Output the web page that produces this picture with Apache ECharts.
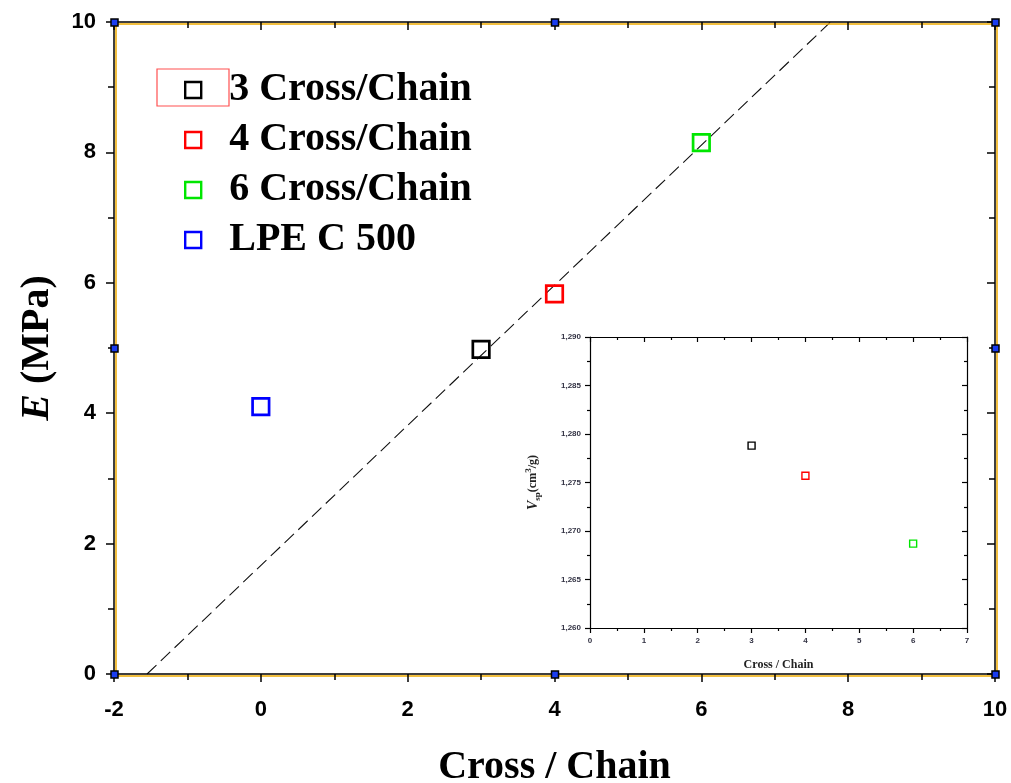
<!DOCTYPE html>
<html><head><meta charset="utf-8">
<script src="https://cdn.jsdelivr.net/npm/echarts@6/dist/echarts.min.js"></script>
<style>html,body{margin:0;padding:0;background:#fff}#c{width:1011px;height:783px}</style>
</head><body><div id="c"></div>
<script>
// ---- data ----
const seriesNames = ['3 Cross/Chain', '4 Cross/Chain', '6 Cross/Chain', 'LPE C 500'];
const seriesColors = ['#000000', '#ff0000', '#00e600', '#0000ff'];
const modX = [3, 4, 6, 0];
const modE = [4.98, 5.83, 8.15, 4.10];
const fitX = [-1.55, 7.76];
const fitY = [0, 10];
const insetX = [3, 4, 6];
const insetV = [1.2788, 1.2757, 1.2687];
const insetColors = ['#000000', '#ff0000', '#00e600'];

const serif = '"Liberation Serif","Times New Roman",serif';
const sans = '"Liberation Sans",Arial,sans-serif';
const gold = '#eeaa00';

const chart = echarts.init(document.getElementById('c'), null, {renderer: 'canvas'});

const G = {left: 114, top: 22, right: 16, bottom: 109};
const scatterSeries = seriesNames.map((n, i) => ({
  name: n, type: 'scatter', xAxisIndex: 0, yAxisIndex: 0,
  symbol: 'rect', symbolSize: 16.5,
  itemStyle: {color: 'rgba(255,255,255,0)', borderColor: seriesColors[i], borderWidth: 2.7, opacity: 1},
  data: [[modX[i], modE[i]]], z: 5
}));

function line(color, w) { return {show: true, onZero: false, lineStyle: {color: color, width: w}}; }

const option = {
  backgroundColor: '#fff',
  animation: false,
  grid: [
    {left: G.left, top: G.top, right: G.right, bottom: G.bottom, containLabel: false, outerBoundsMode: 'none'},
    {left: G.left + 2, top: G.top + 2, right: G.right - 2, bottom: G.bottom - 2, containLabel: false, outerBoundsMode: 'none'},
    {left: 590, top: 337, width: 377, height: 291, containLabel: false, outerBoundsMode: 'none'}
  ],
  xAxis: [
    {gridIndex: 0, type: 'value', min: -2, max: 10, interval: 2, position: 'bottom',
     name: 'Cross / Chain', nameLocation: 'middle', nameGap: 74,
     nameTextStyle: {fontFamily: serif, fontWeight: 'bold', fontSize: 40, color: '#000'},
     axisLine: line('#000', 1.5),
     axisTick: {show: true, inside: false, length: 8, lineStyle: {color: '#000', width: 1.5}},
     minorTick: {show: true, splitNumber: 2, length: 6, lineStyle: {color: '#000', width: 1.5}},
     axisLabel: {fontFamily: sans, fontWeight: 'bold', fontSize: 22, color: '#000', margin: 25},
     splitLine: {show: false}, z: 3},
    {gridIndex: 0, type: 'value', min: -2, max: 10, interval: 2, position: 'top',
     axisLine: line('#000', 1.5),
     axisTick: {show: true, inside: true, length: 8, lineStyle: {color: '#000', width: 1.5}},
     minorTick: {show: true, splitNumber: 2, length: 6, lineStyle: {color: '#000', width: 1.5}},
     axisLabel: {show: false}, splitLine: {show: false}, z: 3},
    {gridIndex: 1, type: 'value', min: -2, max: 10, position: 'bottom',
     axisLine: line(gold, 1.5), axisTick: {show: false},
     axisLabel: {show: false}, splitLine: {show: false}, z: 2},
    {gridIndex: 1, type: 'value', min: -2, max: 10, position: 'top',
     axisLine: line(gold, 1.5), axisTick: {show: false},
     axisLabel: {show: false}, splitLine: {show: false}, z: 2},
    {gridIndex: 2, type: 'value', min: 0, max: 7, interval: 1, position: 'bottom',
     name: 'Cross / Chain', nameLocation: 'middle', nameGap: 31,
     nameTextStyle: {fontFamily: serif, fontWeight: 'bold', fontSize: 12, color: '#222'},
     axisLine: line('#000', 1.2),
     axisTick: {show: true, inside: false, length: 5, lineStyle: {color: '#000', width: 1.2}},
     minorTick: {show: true, splitNumber: 2, length: 3, lineStyle: {color: '#000', width: 1.2}},
     axisLabel: {fontFamily: sans, fontWeight: 'bold', fontSize: 8, color: '#334', margin: 9},
     splitLine: {show: false}},
    {gridIndex: 2, type: 'value', min: 0, max: 7, interval: 1, position: 'top',
     axisLine: line('#000', 1.2),
     axisTick: {show: true, inside: true, length: 5, lineStyle: {color: '#000', width: 1.2}},
     minorTick: {show: true, splitNumber: 2, length: 3, lineStyle: {color: '#000', width: 1.2}},
     axisLabel: {show: false}, splitLine: {show: false}}
  ],
  yAxis: [
    {gridIndex: 0, type: 'value', min: 0, max: 10, interval: 2, position: 'left',
     name: '{e|E}{n| (MPa)}', nameLocation: 'middle', nameGap: 56, nameRotate: 90,
     nameTextStyle: {fontFamily: serif, fontWeight: 'bold', fontSize: 40, color: '#000',
       rich: {e: {fontFamily: serif, fontWeight: 'bold', fontStyle: 'italic', fontSize: 40, color: '#000'},
              n: {fontFamily: serif, fontWeight: 'bold', fontSize: 40, color: '#000'}}},
     axisLine: line('#000', 1.5),
     axisTick: {show: true, inside: false, length: 8, lineStyle: {color: '#000', width: 1.5}},
     minorTick: {show: true, splitNumber: 2, length: 6, lineStyle: {color: '#000', width: 1.5}},
     axisLabel: {fontFamily: sans, fontWeight: 'bold', fontSize: 22, color: '#000', margin: 18},
     splitLine: {show: false}, z: 3},
    {gridIndex: 0, type: 'value', min: 0, max: 10, interval: 2, position: 'right',
     axisLine: line('#000', 1.5),
     axisTick: {show: true, inside: true, length: 8, lineStyle: {color: '#000', width: 1.5}},
     minorTick: {show: true, splitNumber: 2, length: 6, lineStyle: {color: '#000', width: 1.5}},
     axisLabel: {show: false}, splitLine: {show: false}, z: 3},
    {gridIndex: 1, type: 'value', min: 0, max: 10, position: 'left',
     axisLine: line(gold, 1.5), axisTick: {show: false},
     axisLabel: {show: false}, splitLine: {show: false}, z: 2},
    {gridIndex: 1, type: 'value', min: 0, max: 10, position: 'right',
     axisLine: line(gold, 1.5), axisTick: {show: false},
     axisLabel: {show: false}, splitLine: {show: false}, z: 2},
    {gridIndex: 2, type: 'value', min: 1.26, max: 1.29, interval: 0.005, position: 'left',
     name: '{v|V}{s|sp}{n|(cm}{p|3}{n|/g)}', nameLocation: 'middle', nameGap: 48, nameRotate: 90,
     nameTextStyle: {fontFamily: serif, fontWeight: 'bold', fontSize: 12, color: '#222',
       rich: {v: {fontFamily: serif, fontWeight: 'bold', fontStyle: 'italic', fontSize: 14, color: '#222', lineHeight: 18, verticalAlign: 'middle'},
              s: {fontFamily: serif, fontWeight: 'bold', fontSize: 9, color: '#222', lineHeight: 18, verticalAlign: 'bottom', padding: [8, 0, 0, 0]},
              n: {fontFamily: serif, fontWeight: 'bold', fontSize: 12, color: '#222', lineHeight: 18, verticalAlign: 'middle'},
              p: {fontFamily: serif, fontWeight: 'bold', fontSize: 9, color: '#222', lineHeight: 18, verticalAlign: 'top', padding: [0, 0, 8, 0]}}},
     axisLine: line('#000', 1.2),
     axisTick: {show: true, inside: false, length: 5, lineStyle: {color: '#000', width: 1.2}},
     minorTick: {show: true, splitNumber: 2, length: 3, lineStyle: {color: '#000', width: 1.2}},
     axisLabel: {fontFamily: sans, fontWeight: 'bold', fontSize: 8, color: '#334', margin: 9,
       formatter: v => v.toFixed(3).replace('.', ',')},
     splitLine: {show: false}},
    {gridIndex: 2, type: 'value', min: 1.26, max: 1.29, interval: 0.005, position: 'right',
     axisLine: line('#000', 1.2),
     axisTick: {show: true, inside: true, length: 5, lineStyle: {color: '#000', width: 1.2}},
     minorTick: {show: true, splitNumber: 2, length: 3, lineStyle: {color: '#000', width: 1.2}},
     axisLabel: {show: false}, splitLine: {show: false}}
  ],
  legend: {
    orient: 'vertical', left: 179, top: 60, itemGap: 0, itemWidth: 16, itemHeight: 16,
    selectedMode: false,
    textStyle: {fontFamily: serif, fontWeight: 'bold', fontSize: 40, color: '#000', lineHeight: 50, padding: [0, 0, 0, 23]},
    data: seriesNames.map((n, i) => ({name: n, icon: 'rect',
      itemStyle: {color: 'rgba(255,255,255,0)', borderColor: seriesColors[i], borderWidth: 2.4, opacity: 1}}))
  },
  series: [
    {name: 'fit', type: 'line', xAxisIndex: 0, yAxisIndex: 0, showSymbol: false, symbol: 'none',
     data: fitX.map((x, i) => [x, fitY[i]]),
     lineStyle: {color: '#111', width: 1.1, type: [13, 6]}, z: 1, silent: true},
    ...scatterSeries,
    {name: 'inset', type: 'scatter', xAxisIndex: 4, yAxisIndex: 4, symbol: 'rect', symbolSize: 7,
     data: insetX.map((x, i) => ({value: [x, insetV[i]],
       itemStyle: {color: 'rgba(255,255,255,0)', borderColor: insetColors[i], borderWidth: 1.4, opacity: 1}}))}
  ]
};
chart.setOption(option);

// decoration: selection handles and highlight box
const handleAt = [[-2, 10], [4, 10], [10, 10], [-2, 5], [10, 5], [-2, 0], [4, 0], [10, 0]];
const gfx = handleAt.map(p => {
  const px = chart.convertToPixel({gridIndex: 0}, p);
  return {type: 'rect', shape: {x: px[0] - 3, y: px[1] - 3, width: 7, height: 7},
    style: {fill: '#1a3cf0', stroke: '#000', lineWidth: 1.5}, z: 100};
});
gfx.push({type: 'rect', shape: {x: 157, y: 69, width: 72, height: 37},
  style: {fill: 'none', stroke: '#ff5050', lineWidth: 1.2}, z: 100});
chart.setOption({graphic: gfx});
</script></body></html>
